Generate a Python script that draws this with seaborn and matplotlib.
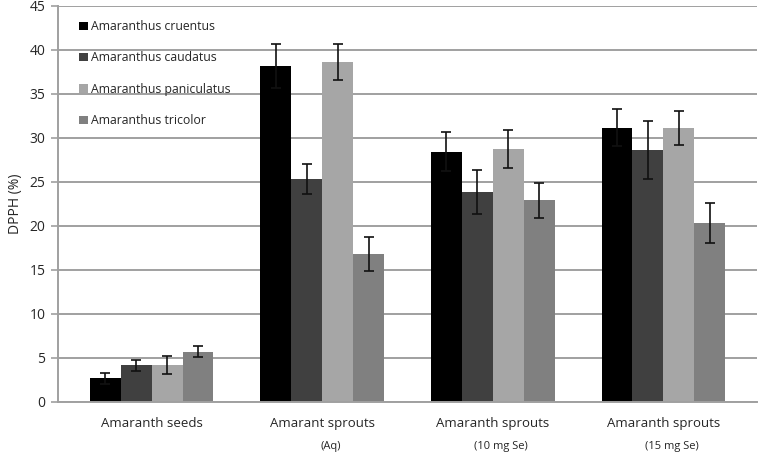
import numpy as np
import pandas as pd
import matplotlib
matplotlib.use("Agg")
import matplotlib.pyplot as plt
import seaborn as sns

# values
groups = ["Amaranth seeds", "Amarant sprouts", "Amaranth sprouts", "Amaranth sprouts "]
sublabels = ["", "(Aq)", "(10 mg Se)", "(15 mg Se)"]
species = ["Amaranthus cruentus", "Amaranthus caudatus",
           "Amaranthus paniculatus", "Amaranthus tricolor"]

cruentus = [2.66, 38.1, 28.4, 31.1]
caudatus = [4.14, 25.3, 23.8, 28.6]
paniculatus = [4.14, 38.6, 28.7, 31.1]
tricolor = [5.68, 16.8, 22.9, 20.3]

cruentus_err = [0.64, 2.5, 2.2, 2.1]
caudatus_err = [0.65, 1.7, 2.5, 3.3]
paniculatus_err = [1.0, 2.0, 2.2, 1.9]
tricolor_err = [0.62, 1.9, 2.0, 2.3]

colors = ["#000000", "#404040", "#a6a6a6", "#808080"]

values = [cruentus, caudatus, paniculatus, tricolor]
errors = [cruentus_err, caudatus_err, paniculatus_err, tricolor_err]

df = pd.DataFrame({
    "group": np.tile(groups, len(species)),
    "species": np.repeat(species, len(groups)),
    "dpph": np.concatenate(values),
})

sns.set_style("white")
plt.rcParams["font.family"] = ["Open Sans", "DejaVu Sans"]

fig = plt.figure(figsize=(7.61, 4.53), dpi=100)
ax = fig.add_axes([0.0762, 0.1132, 0.9185, 0.8745])

sns.barplot(data=df, x="group", y="dpph", hue="species", order=groups,
            hue_order=species, palette=colors, width=0.725, gap=0,
            saturation=1, errorbar=None, linewidth=0, ax=ax)

# error bars on top of the bars seaborn drew
for cont, err in zip(ax.containers, errors):
    xs = [b.get_x() + b.get_width() / 2 for b in cont]
    ys = [b.get_height() for b in cont]
    ax.errorbar(xs, ys, yerr=err, fmt="none", ecolor="#111111",
                elinewidth=1.2, capsize=3.5, capthick=1.2, zorder=5)

ax.set_ylim(0, 45)
ax.set_yticks(range(0, 46, 5))
ax.yaxis.grid(True, color="#a0a0a0", linewidth=1.4)
ax.set_axisbelow(True)
for s in ["top", "right"]:
    ax.spines[s].set_visible(False)
for s in ["left", "bottom"]:
    ax.spines[s].set_color("#a0a0a0")
    ax.spines[s].set_linewidth(1.4)

ax.tick_params(axis="y", length=5, color="#a0a0a0", width=1.2,
               labelsize=10, pad=4, left=True)
ax.tick_params(axis="x", length=0, labelsize=9.5, pad=11)
ax.set_xlabel("")
ax.set_ylabel("DPPH (%)", fontsize=10, labelpad=5)
ax.set_xticks(range(len(groups)))
ax.set_xticklabels([g.strip() for g in groups])

for i, sub in enumerate(sublabels):
    ax.annotate(sub, xy=(i, 0), xycoords=("data", "axes fraction"),
                xytext=(6, -32), textcoords="offset points",
                ha="center", va="center", fontsize=8)

handles, labels = ax.get_legend_handles_labels()
ax.legend(handles, labels, loc="upper left", bbox_to_anchor=(0.018, 0.985),
          frameon=False, fontsize=8.8, handlelength=0.7, handleheight=0.7,
          handletextpad=0.25, labelspacing=1.5, borderaxespad=0.3)

fig.savefig("out.png", dpi=100)
